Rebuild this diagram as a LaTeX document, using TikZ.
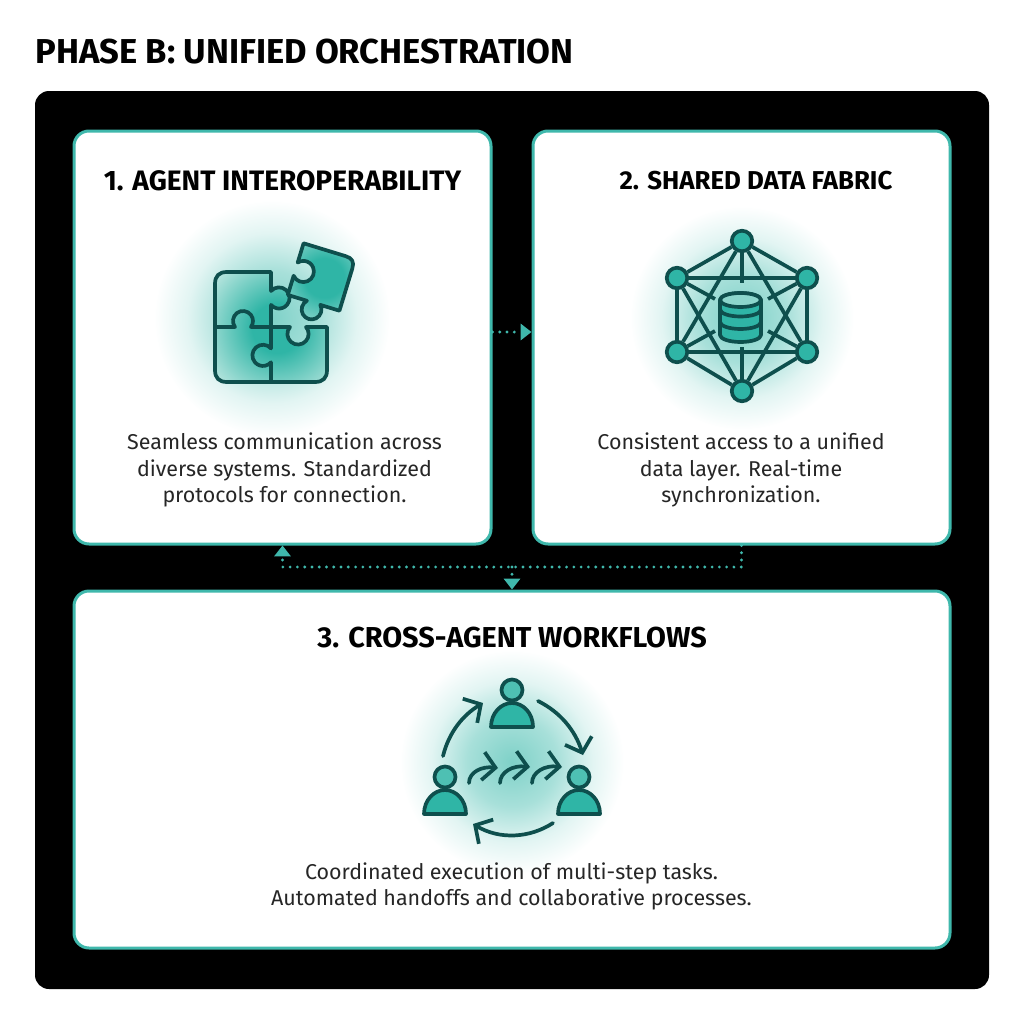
\documentclass[tikz,border=0pt]{standalone}
\usepackage{fontspec}
\setmainfont{Fira Sans}
\usetikzlibrary{arrows.meta}
\definecolor{inkteal}{HTML}{0E4F4D}
\definecolor{fillteal}{HTML}{2FB5A6}
\definecolor{edgeteal}{HTML}{3FB8AC}
\definecolor{paleteal}{HTML}{B4E4DD}
\pgfdeclareradialshading{glowshade}{\pgfpointorigin}{color(0bp)=(fillteal!62!white); color(10bp)=(fillteal!42!white); color(18bp)=(fillteal!14!white); color(25bp)=(white); color(50bp)=(white)}
\pgfdeclareradialshading{pieceshade}{\pgfpointorigin}{color(0bp)=(fillteal); color(8bp)=(fillteal); color(25bp)=(paleteal); color(50bp)=(paleteal)}
\tikzset{
  panel/.style={fill=black,rounded corners=1.4mm,minimum width=95.4mm,minimum height=89.8mm,inner sep=0pt},
  card/.style={draw=edgeteal,fill=white,line width=0.3mm,rounded corners=1.5mm,inner sep=0pt},
  heading/.style={font=\fontsize{#1}{10}\selectfont\bfseries},
  blurb/.style={font=\fontsize{6.1}{7.5}\selectfont,align=center,text=black!85},
  flowline/.style={draw=edgeteal,line width=0.9pt,line cap=round,dash pattern=on 0pt off 2.07pt},
  flowtip/.style={-{Triangle[width=4.6pt,length=3.1pt,fill=edgeteal]}},
  icon/.style={draw=inkteal,line width=0.37mm,line join=round},
  bentarrow/.style={icon,line cap=round,-{Straight Barb[length=3.6pt,width=8pt]}},
  hub/.style={circle,draw=inkteal,fill=fillteal,line width=0.37mm,minimum size=2.05mm,inner sep=0pt}
}
\newcommand{\agent}[1]{
  \begin{scope}[shift={(#1)}]
    \draw[icon,fill=fillteal] (-21,37) .. controls (-21,23) and (-11,13) .. (0,13)
      .. controls (11,13) and (21,23) .. (21,37) -- cycle;
    \draw[icon,fill=fillteal!85!white] (0,0) circle[radius=10.5];
  \end{scope}
}
\begin{document}
\begin{tikzpicture}[x=0.1mm,y=-0.1mm]
    \useasboundingbox (0,0) rectangle (1024,1024);
    \node[anchor=west,inner sep=0pt,heading=9.83] (title) at (35,52) {PHASE B: UNIFIED ORCHESTRATION};
    \node[panel] (frame) at (512,540) {};

    \node[card,minimum width=41.7mm,minimum height=41.3mm] (card1) at (282.5,337.5) {};
    \node[card,minimum width=41.7mm,minimum height=41.3mm] (card2) at (741.5,337.5) {};
    \node[card,minimum width=87.6mm,minimum height=35.7mm] (card3) at (512,769.5) {};

    % dotted links
    \coordinate (bus) at (512,567);
    \draw[flowline,flowtip] ([yshift=0.55mm]card1.east) -- ([yshift=0.55mm]card2.west);
    \draw[flowline,flowtip] (card2.south) |- (bus) -| (card1.south);
    \draw[flowline,flowtip] (bus) -- (card3.north);

    % puzzle
    \shade[shading=glowshade] (272,318) circle[radius=118];
    \def\blockpath{(227,272) -- (271,272) -- (271,291) arc[start angle=221,end angle=499,radius=10.6] -- (271,327) -- (290,327)
      arc[start angle=221,end angle=-41,radius=10.6] -- (327,327) -- (327,370) .. controls (327,378) and (323,382) .. (315,382)
      -- (227,382) .. controls (219,382) and (215,378) .. (215,370) -- (215,284) .. controls (215,276) and (219,272) .. (227,272) -- cycle}
    \begin{scope}
        \clip \blockpath;
        \shade[shading=pieceshade] (277,328) circle[radius=78];
    \end{scope}
    \draw[icon] \blockpath;
    \draw[icon] (215,327) -- (235,327) arc[start angle=143,end angle=397,radius=10] -- (271,327);
    \draw[icon] (271,327) -- (271,348.4) arc[start angle=-41,end angle=-319,radius=10.6] -- (271,382);
    \begin{scope}[shift={(321.5,277)},rotate=-17]
        \def\tilepath{(-27,-27) -- (17,-27) .. controls (24,-27) and (27,-24) .. (27,-17) -- (27,27) -- (7,27)
          arc[start angle=-45,end angle=225,radius=9.9] -- (-27,27) -- (-27,7)
          arc[start angle=139,end angle=-139,radius=10.6] -- cycle}
        \begin{scope}
            \clip \tilepath;
            \shade[shading=pieceshade] (3,0) circle[radius=55];
        \end{scope}
        \draw[icon] \tilepath;
    \end{scope}

    % network
    \shade[shading=glowshade] (742,318) circle[radius=112];
    \node[hub] (top) at (742,241) {};
    \node[hub] (upright) at (807,278) {};
    \node[hub] (lowright) at (807,352) {};
    \node[hub] (bottom) at (742,391) {};
    \node[hub] (lowleft) at (677,352) {};
    \node[hub] (upleft) at (677,278) {};
    \coordinate (stubtop) at (742,283);
    \coordinate (stubbottom) at (742,347);
    \coordinate (stubul) at (715,299);
    \coordinate (stubur) at (768,299);
    \coordinate (stubll) at (715,331);
    \coordinate (stublr) at (768,331);
    \draw[icon] (top) -- (upright) -- (lowright) -- (bottom) -- (lowleft) -- (upleft) -- (top);
    \draw[icon] (upleft) -- (upright);
    \draw[icon] (lowleft) -- (lowright);
    \draw[icon] (top) -- (lowleft);
    \draw[icon] (top) -- (lowright);
    \draw[icon] (bottom) -- (upleft);
    \draw[icon] (bottom) -- (upright);
    \draw[icon] (top) -- (stubtop);
    \draw[icon] (bottom) -- (stubbottom);
    \draw[icon] (upleft) -- (stubul);
    \draw[icon] (upright) -- (stubur);
    \draw[icon] (lowleft) -- (stubll);
    \draw[icon] (lowright) -- (stublr);
    % database
    \draw[icon,fill=fillteal] (720,300) -- (720,335) arc[start angle=180,end angle=0,x radius=20.5,y radius=7]
      -- (761,300) arc[start angle=0,end angle=180,x radius=20.5,y radius=-7] -- cycle;
    \draw[icon,fill=paleteal!70!fillteal] (740.5,300) ellipse[x radius=20.5,y radius=7];
    \draw[icon] (720,309.5) arc[start angle=180,end angle=0,x radius=20.5,y radius=7];
    \draw[icon] (720,322) arc[start angle=180,end angle=0,x radius=20.5,y radius=7];

    % workflow
    \shade[shading=glowshade] (512,762) circle[radius=112];
    \agent{512,690}
    \agent{445,777}
    \agent{579,777}
    \draw[bentarrow] (443,756) .. controls (449,732) and (463,715) .. (483,703);
    \draw[bentarrow] (538,701) .. controls (560,712) and (575,730) .. (583,755);
    \draw[bentarrow] (553,823) .. controls (530,838) and (500,840) .. (473,824);
    \draw[bentarrow] (469,783) .. controls (469,772) and (482,766) .. (498,768);
    \draw[bentarrow] (500,783) .. controls (500,772) and (513,765) .. (530,767);
    \draw[bentarrow] (532,783) .. controls (532,772) and (545,765) .. (562,767);

    \node[heading=8] (head1) at (282.5,181) {1. AGENT INTEROPERABILITY};
    \node[heading=7.35] (head2) at (756,181) {2. SHARED DATA FABRIC};
    \node[heading=8.2] (head3) at (512,638) {3. CROSS-AGENT WORKFLOWS};

    \node[blurb] (text1) at (284.5,470) {Seamless communication across\\diverse systems. Standardized\\protocols for connection.};
    \node[blurb] (text2) at (741,470) {Consistent access to a unified\\data layer. Real-time\\synchronization.};
    \node[blurb] (text3) at (511.5,886.5) {Coordinated execution of multi-step tasks.\\Automated handoffs and collaborative processes.};
\end{tikzpicture}
\end{document}
